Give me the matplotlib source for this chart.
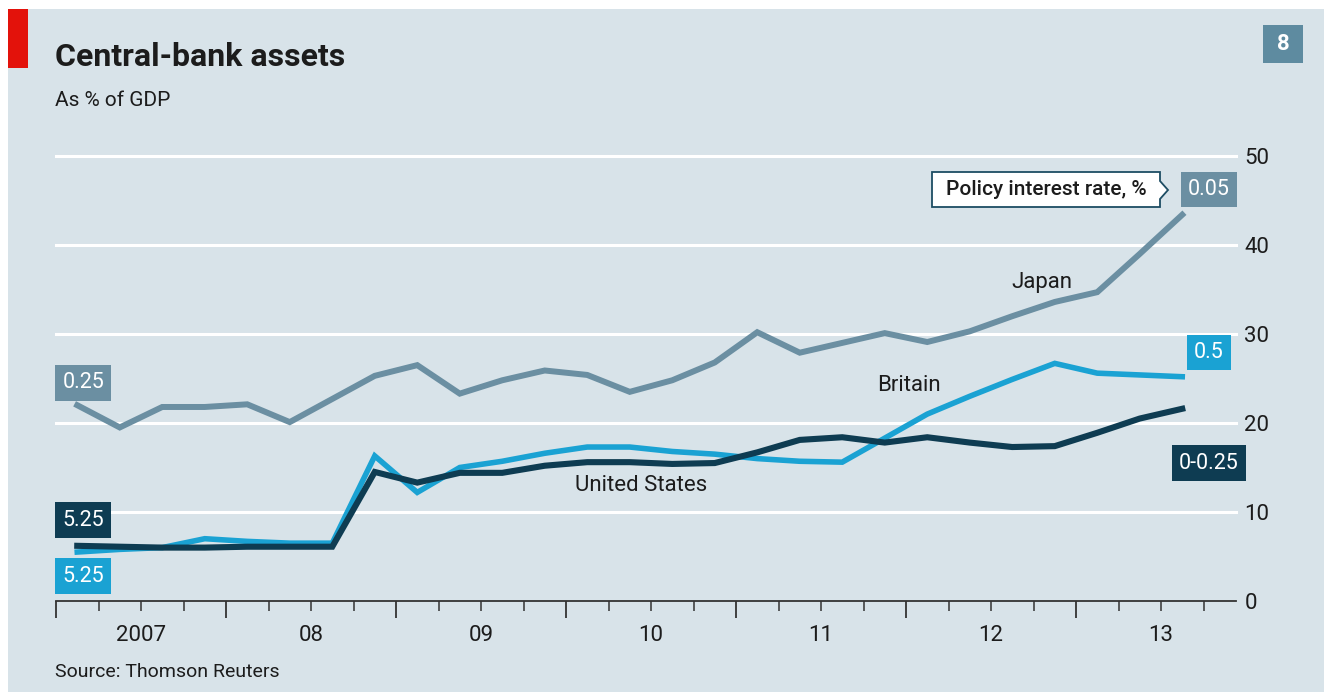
import matplotlib.pyplot as plt
from matplotlib.patches import Rectangle, Polygon

# quarterly balance-sheet size, % of GDP, 2007Q1 - 2013Q3
quarters = [f'{y}Q{q}' for y in range(2007, 2014) for q in range(1, 5)][:27]
japan = [22.0, 19.5, 21.8, 21.8, 22.1, 20.1, 22.7, 25.3, 26.5, 23.3, 24.8, 25.9, 25.4,
         23.5, 24.8, 26.8, 30.2, 27.9, 29.0, 30.1, 29.1, 30.3, 32.0, 33.6, 34.7, 39.0, 43.4]
britain = [5.5, 5.8, 6.0, 7.0, 6.7, 6.5, 6.5, 16.3, 12.2, 15.0, 15.7, 16.6, 17.3,
           17.3, 16.8, 16.5, 16.0, 15.7, 15.6, 18.3, 21.0, 23.0, 24.9, 26.7, 25.6, 25.4, 25.2]
united_states = [6.2, 6.1, 6.0, 6.0, 6.1, 6.1, 6.1, 14.5, 13.3, 14.4, 14.4, 15.2, 15.6,
                 15.6, 15.4, 15.5, 16.7, 18.1, 18.4, 17.8, 18.4, 17.8, 17.3, 17.4, 18.9, 20.5, 21.6]

# policy rates at start and end of period
rate_start = {'Japan': '0.25', 'United States': '5.25', 'Britain': '5.25'}
rate_end = {'Japan': '0.05', 'Britain': '0.5', 'United States': '0-0.25'}

year_labels = ['2007', '08', '09', '10', '11', '12', '13']
y_ticks = [0, 10, 20, 30, 40, 50]

x = [int(s[:4]) + (int(s[-1]) - 1) * 0.25 + 0.125 for s in quarters]

BG = '#d8e3e9'
C_JP = '#6b8fa2'
C_UK = '#1aa2d3'
C_US = '#0e3c52'
INK = '#1c1c1c'
FONT = 'Roboto'

W, H = 1324, 692
fig = plt.figure(figsize=(W / 100, H / 100), dpi=100, facecolor='white')
plt.rcParams['font.family'] = [FONT, 'DejaVu Sans']


def fx(px):
    return px / W


def fy(py):
    return 1 - py / H


# panel background and red flag
fig.patches.append(Rectangle((fx(8), 0), 1, fy(9), transform=fig.transFigure,
                             fc=BG, ec='none', zorder=-2))
fig.patches.append(Rectangle((fx(8), fy(68)), fx(20), 59 / H, transform=fig.transFigure,
                             fc='#e3120b', ec='none', zorder=1))

fig.text(fx(55), fy(57), 'Central-bank assets', fontsize=23, weight='bold',
         color=INK, va='center', ha='left')
fig.text(fx(55), fy(100), 'As % of GDP', fontsize=15, color=INK, va='center', ha='left')
fig.text(fx(55), fy(672), 'Source: Thomson Reuters', fontsize=14, color=INK,
         va='center', ha='left')

# chart number
fig.patches.append(Rectangle((fx(1263), fy(63)), 40 / W, 38 / H, transform=fig.transFigure,
                             fc='#5e8ba0', ec='none', zorder=1))
fig.text(fx(1283), fy(44), '8', fontsize=16, weight='bold', color='white',
         ha='center', va='center')

ax = fig.add_axes([fx(56), fy(601), (1236 - 56) / W, (601 - 156) / H])
ax.set_facecolor('none')
ax.set_xlim(2007, 2007 + 1180 / 170)
ax.set_ylim(0, 50)

for v in y_ticks[1:]:
    ax.axhline(v, color='white', lw=2.2, zorder=1, clip_on=False)

for s in ['top', 'left', 'right']:
    ax.spines[s].set_visible(False)
ax.spines['bottom'].set_color('#333333')
ax.spines['bottom'].set_linewidth(1.3)

ax.set_yticks(y_ticks)
ax.yaxis.tick_right()
ax.tick_params(axis='y', length=0, pad=6, labelsize=16, labelcolor=INK)

ax.set_xticks(range(2007, 2014))
ax.set_xticks([yr + q for yr in range(2007, 2014) for q in (0.25, 0.5, 0.75)], minor=True)
ax.tick_params(axis='x', which='major', length=12, width=1.3, color='#333333',
               labelbottom=False)
ax.tick_params(axis='x', which='minor', length=7, width=1.1, color='#333333')
for i, lab in enumerate(year_labels):
    ax.text(2007 + i + 0.5, -0.077, lab, transform=ax.get_xaxis_transform(),
            fontsize=16, color=INK, ha='center', va='center')

ax.plot(x, japan, color=C_JP, lw=4.3, solid_joinstyle='miter', zorder=3)
ax.plot(x, britain, color=C_UK, lw=4.0, solid_joinstyle='miter', zorder=4)
ax.plot(x, united_states, color=C_US, lw=4.4, solid_joinstyle='miter', zorder=5)

ax.text(2012.80, 35.8, 'Japan', fontsize=16, color=INK, ha='center', va='center')
ax.text(2012.02, 24.2, 'Britain', fontsize=16, color=INK, ha='center', va='center')
ax.text(2010.44, 13.0, 'United States', fontsize=16, color=INK, ha='center', va='center')


def rate_box(xv, yv, label, color):
    ax.text(xv, yv, label, fontsize=15.5, color='white', ha='center', va='center',
            zorder=6, bbox=dict(boxstyle='square,pad=0.33', fc=color, ec='none'))


rate_box(2007.16, 24.5, rate_start['Japan'], C_JP)
rate_box(2007.16, 9.1, rate_start['United States'], C_US)
rate_box(2007.16, 2.8, rate_start['Britain'], C_UK)
rate_box(2013.78, 46.2, rate_end['Japan'], C_JP)
rate_box(2013.78, 27.9, rate_end['Britain'], C_UK)
rate_box(2013.78, 15.5, rate_end['United States'], C_US)

# key box pointing at the end-of-period rates
key = [(932, 172), (1160, 172), (1160, 181), (1168, 190), (1160, 199), (1160, 207), (932, 207)]
fig.patches.append(Polygon([(fx(a), fy(b)) for a, b in key], closed=True,
                           transform=fig.transFigure, fc='white', ec='#1d4d63', lw=1.3,
                           zorder=5))
fig.text(fx(1046), fy(190), 'Policy interest rate, %', fontsize=15, weight='medium',
         color=INK, ha='center', va='center', zorder=6)

fig.savefig('out.png', dpi=100, facecolor='white')
